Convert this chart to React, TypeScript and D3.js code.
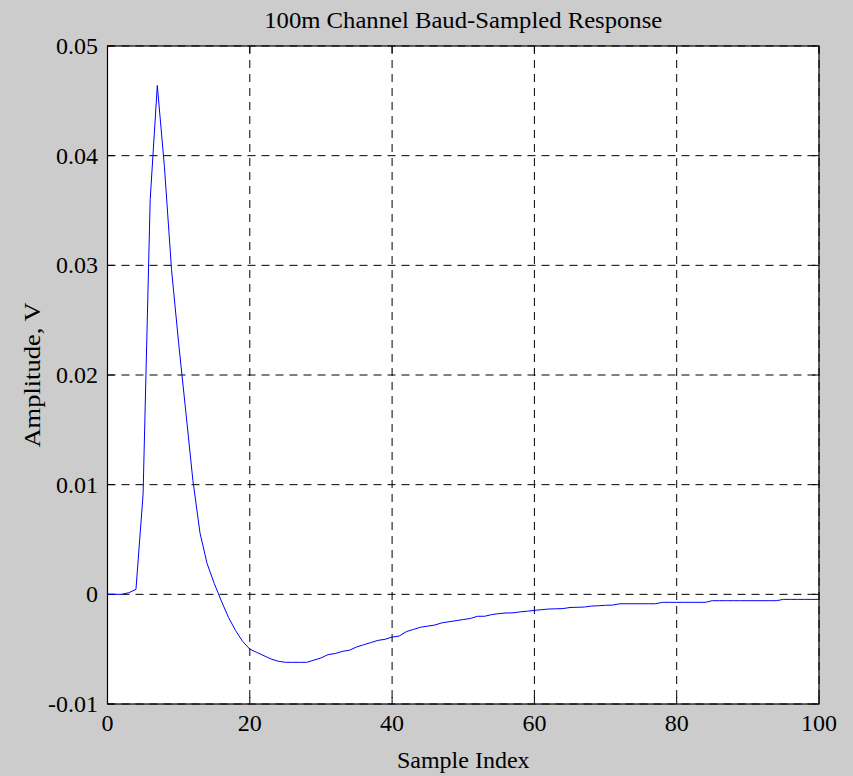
import React from "react";
import * as d3 from "d3";

const sampleIndex: number[] = d3.range(0, 101);
const amplitude: number[] = [
  0, 0, 0, 0.00015, 0.00045, 0.0091, 0.036, 0.0464, 0.039, 0.0296,
  0.0229, 0.0167, 0.0104, 0.0056, 0.0028, 0.0010, -0.0006, -0.0021, -0.0033, -0.0043,
  -0.0050, -0.0053, -0.0056, -0.0059, -0.0061, -0.0062, -0.0062, -0.0062, -0.0062, -0.0060,
  -0.0058, -0.0055, -0.0054, -0.0052, -0.0051, -0.0048, -0.0046, -0.0044, -0.0042, -0.0041,
  -0.0039, -0.0038, -0.0034, -0.0032, -0.0030, -0.0029, -0.0028, -0.0026, -0.0025, -0.0024,
  -0.0023, -0.0022, -0.0020, -0.0020, -0.00185, -0.00176, -0.0017, -0.00169, -0.0016, -0.00154,
  -0.00146, -0.0014, -0.00134, -0.00132, -0.0013, -0.0012, -0.00118, -0.00116, -0.00107, -0.00104,
  -0.0010, -0.00098, -0.00086, -0.00086, -0.00086, -0.00086, -0.00086, -0.00086, -0.00073, -0.00073,
  -0.00073, -0.00073, -0.00073, -0.00073, -0.00073, -0.00058, -0.00058, -0.00058, -0.00058, -0.00058,
  -0.00058, -0.00058, -0.00058, -0.00058, -0.00058, -0.00046, -0.00046, -0.00046, -0.00046, -0.00046,
  -0.00046,
];
const xTicks: number[] = [0, 20, 40, 60, 80, 100];
const yTicks: number[] = [-0.01, 0, 0.01, 0.02, 0.03, 0.04, 0.05];
const yTickLabels: string[] = ["-0.01", "0", "0.01", "0.02", "0.03", "0.04", "0.05"];
const title = "100m Channel Baud-Sampled Response";
const xLabel = "Sample Index";
const yLabel = "Amplitude, V";

export default function App() {
  const W = 853, H = 776;
  const left = 107.5, right = 819, top = 46, bottom = 704;
  const x = d3.scaleLinear().domain([0, 100]).range([left, right]);
  const y = d3.scaleLinear().domain([-0.01, 0.05]).range([bottom, top]);
  const line = d3
    .line<number>()
    .x((_, i) => x(sampleIndex[i]))
    .y((d) => y(d));
  const font = "'Liberation Serif', 'Times New Roman', serif";
  const tick = 7;
  return (
    <svg
      width={W}
      height={H}
      style={{ position: "absolute", left: 0, top: 0, background: "#cccccc" }}
      fontFamily={font}
    >
      <rect x={0} y={0} width={W} height={H} fill="#cccccc" />
      <rect x={left} y={top} width={right - left} height={bottom - top} fill="#ffffff" />
      {xTicks.map((t) => (
        <line key={"gx" + t} x1={x(t)} x2={x(t)} y1={top} y2={bottom} stroke="#000" strokeWidth={1} strokeDasharray="8,6" />
      ))}
      {yTicks.map((t) => (
        <line key={"gy" + t} x1={left} x2={right} y1={y(t)} y2={y(t)} stroke="#000" strokeWidth={1} strokeDasharray="8,6" />
      ))}
      {xTicks.map((t) => (
        <g key={"tx" + t}>
          <line x1={x(t)} x2={x(t)} y1={bottom} y2={bottom - tick} stroke="#000" />
          <line x1={x(t)} x2={x(t)} y1={top} y2={top + tick} stroke="#000" />
        </g>
      ))}
      {yTicks.map((t) => (
        <g key={"ty" + t}>
          <line x1={left} x2={left + tick} y1={y(t)} y2={y(t)} stroke="#000" />
          <line x1={right} x2={right - tick} y1={y(t)} y2={y(t)} stroke="#000" />
        </g>
      ))}
      <path d={line(amplitude) || ""} fill="none" stroke="#0000ff" strokeWidth={1} />
      <rect x={left} y={top} width={right - left} height={bottom - top} fill="none" stroke="#000" strokeWidth={1.2} />
      {xTicks.map((t) => (
        <text key={"lx" + t} x={x(t)} y={731} textAnchor="middle" fontSize={24} fill="#000">
          {t}
        </text>
      ))}
      {yTicks.map((t, i) => (
        <text key={"ly" + t} x={98} y={y(t) + 8} textAnchor="end" fontSize={24} fill="#000">
          {yTickLabels[i]}
        </text>
      ))}
      <text x={(left + right) / 2} y={28} textAnchor="middle" fontSize={24} fill="#000" textLength={398} lengthAdjust="spacingAndGlyphs">
        {title}
      </text>
      <text x={(left + right) / 2} y={768} textAnchor="middle" fontSize={24} fill="#000">
        {xLabel}
      </text>
      <text
        transform={`translate(40, ${(top + bottom) / 2}) rotate(-90)`}
        textAnchor="middle"
        fontSize={24}
        fill="#000"
        textLength={145}
        lengthAdjust="spacingAndGlyphs"
      >
        {yLabel}
      </text>
    </svg>
  );
}
